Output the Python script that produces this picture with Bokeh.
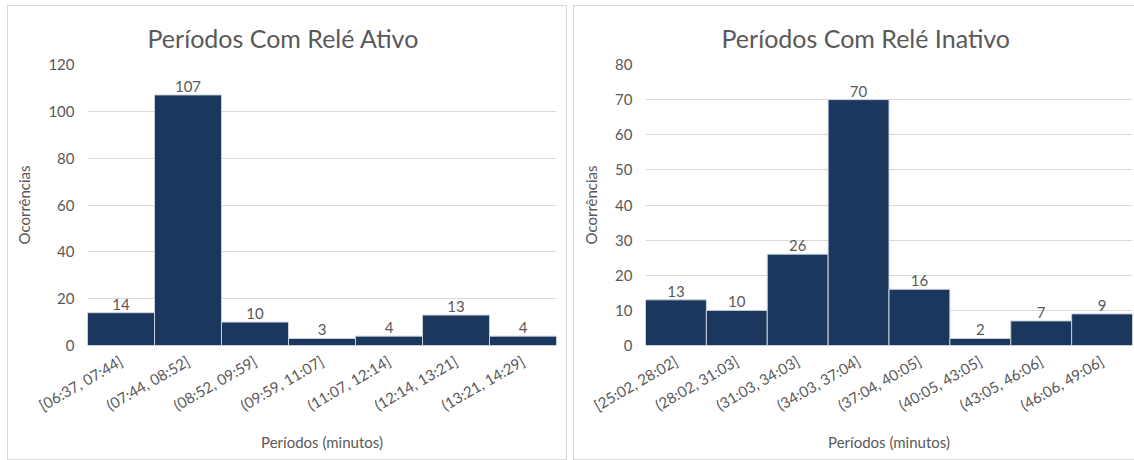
import math
from bokeh.plotting import figure
from bokeh.layouts import row
from bokeh.models import ColumnDataSource, FactorRange, Range1d, SingleIntervalTicker
from bokeh.embed import file_html
from bokeh.resources import INLINE

# ---- data ----
ativo_cats = ["[06:37, 07:44]", "(07:44, 08:52]", "(08:52, 09:59]", "(09:59, 11:07]",
              "(11:07, 12:14]", "(12:14, 13:21]", "(13:21, 14:29]"]
ativo_vals = [14, 107, 10, 3, 4, 13, 4]

inativo_cats = ["[25:02, 28:02]", "(28:02, 31:03]", "(31:03, 34:03]", "(34:03, 37:04]",
                "(37:04, 40:05]", "(40:05, 43:05]", "(43:05, 46:06]", "(46:06, 49:06]"]
inativo_vals = [13, 10, 26, 70, 16, 2, 7, 9]

BAR = "#1b375e"
TXT = "#595959"
GRID = "#d9d9d9"
FONT = "Lato"


def make(title, cats, vals, ymax, step, width, height, bl, br, bt, bb, title_offset):
    src = ColumnDataSource(dict(x=cats, y=vals, lab=[str(v) for v in vals]))
    p = figure(x_range=FactorRange(*cats, range_padding=0), y_range=Range1d(0, ymax),
               width=width, height=height, output_backend="svg", toolbar_location=None,
               min_border_left=bl, min_border_right=br, min_border_top=bt, min_border_bottom=bb)
    p.title.text = title
    p.title.align = "left"
    p.title.vertical_align = "top"
    p.title.text_font = FONT
    p.title.text_font_size = "25px"
    p.title.text_font_style = "normal"
    p.title.text_color = TXT
    p.title.offset = title_offset
    p.title.standoff = 19
    p.vbar(x="x", top="y", width=1.0, source=src, fill_color=BAR, line_color="#c9d1dc", line_width=1)
    p.text(x="x", y="y", text="lab", source=src, text_align="center", text_baseline="bottom",
           y_offset=-3, text_font_size="15px", text_color=TXT, text_font={"value": FONT})
    p.yaxis.ticker = SingleIntervalTicker(interval=step)
    for ax in (p.xaxis, p.yaxis):
        ax.axis_line_color = None
        ax.major_tick_line_color = None
        ax.minor_tick_line_color = None
        ax.major_label_text_font = FONT
        ax.major_label_text_font_size = "15px"
        ax.major_label_text_color = TXT
        ax.axis_label_text_font = FONT
        ax.axis_label_text_font_size = "15px"
        ax.axis_label_text_font_style = "normal"
        ax.axis_label_text_color = TXT
    p.yaxis.axis_label = "Ocorrências"
    p.yaxis.major_label_standoff = 7
    p.yaxis.axis_label_standoff = 12
    p.xaxis.axis_label = "Períodos (minutos)"
    p.xaxis.major_label_orientation = math.pi / 6
    p.xaxis.major_label_standoff = 8
    p.xaxis.axis_label_standoff = 8
    p.xgrid.grid_line_color = None
    p.ygrid.grid_line_color = GRID
    p.outline_line_color = None
    p.styles = {"border": "1px solid #d9d9d9", "box-sizing": "border-box"}
    return p


p1 = make("Períodos Com Relé Ativo", ativo_cats, ativo_vals, 120, 20,
          560, 455, 79, 12, 58, 116, 60)
p2 = make("Períodos Com Relé Inativo", inativo_cats, inativo_vals, 80, 10,
          562, 455, 71, 4, 58, 116, 76)

layout = row(p1, p2, spacing=6)
layout.styles = {"padding-left": "7px", "padding-top": "5px"}

open("out.html", "w").write(file_html(layout, INLINE))
